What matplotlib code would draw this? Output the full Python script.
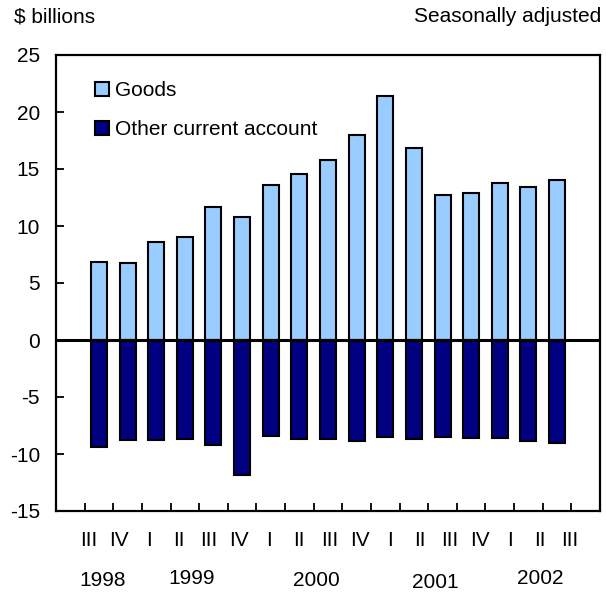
import numpy as np
import matplotlib
matplotlib.use("Agg")
import matplotlib.pyplot as plt
from matplotlib.patches import Patch
from matplotlib.transforms import blended_transform_factory

plt.rcParams['font.family'] = ['Liberation Sans', 'DejaVu Sans']
plt.rcParams['axes.unicode_minus'] = False

# quarterly values, 1998 III to 2002 III
goods = [6.8, 6.75, 8.6, 9.05, 11.7, 10.8, 13.6, 14.6, 15.8, 18.0,
         21.4, 16.8, 12.75, 12.9, 13.8, 13.45, 14.0]
other = [-9.35, -8.8, -8.75, -8.7, -9.2, -11.85, -8.4, -8.7, -8.65, -8.9,
         -8.5, -8.7, -8.5, -8.6, -8.6, -8.85, -9.0]
quarters = ["III", "IV", "I", "II", "III", "IV", "I", "II", "III", "IV",
            "I", "II", "III", "IV", "I", "II", "III"]
years = ["1998", "1999", "2000", "2001", "2002"]
year_x = [0.14, 3.25, 7.58, 11.74, 15.4]        # data x of year labels
year_y = [580, 578, 580, 583, 579]               # pixel rows from top

W, H = 606, 592
fig = plt.figure(figsize=(W / 100, H / 100), dpi=100)
ax = fig.add_axes([56 / W, 1 - 511 / H, 544 / W, 456 / H])

x = np.arange(len(goods))
bw = 0.56
ax.bar(x, goods, bw, color="#99CCFF", edgecolor="black", linewidth=1.5, zorder=2)
ax.bar(x, other, bw, color="#000080", edgecolor="black", linewidth=1.5, zorder=2)
ax.axhline(0, color="black", linewidth=2.2, zorder=3)

ax.set_xlim(-1.5, 17.5)
ax.set_ylim(-15, 25)
ax.set_yticks(range(-15, 26, 5))
ax.set_xticks(np.arange(-0.5, 17, 1.0))
ax.set_xticklabels([])
ax.tick_params(axis="both", direction="in", length=5.5, width=1.3, labelsize=15)
ax.tick_params(axis="y", pad=11.5)
ax.tick_params(top=False, right=False)
for s in ax.spines.values():
    s.set_linewidth(1.6)

# quarter labels and year labels under the axis
tr = blended_transform_factory(ax.transData, fig.transFigure)
qx = -0.35 + np.arange(len(quarters)) * 1.05
for xi, q in zip(qx, quarters):
    ax.text(xi, 1 - 540 / H, q, transform=tr, ha="center", va="center", fontsize=15)
for xi, yi, yr in zip(year_x, year_y, years):
    ax.text(xi, 1 - yi / H, yr, transform=tr, ha="center", va="center", fontsize=15)

fig.text(14 / W, 1 - 17 / H, "$ billions", ha="left", va="center", fontsize=15)
fig.text(601 / W, 1 - 17 / H, "Seasonally adjusted", ha="right", va="center", fontsize=15)

handles = [Patch(facecolor="#99CCFF", edgecolor="black", linewidth=1.5),
           Patch(facecolor="#000080", edgecolor="black", linewidth=1.5)]
ax.legend(handles, ["Goods", "Other current account"], loc="upper left",
          bbox_to_anchor=(0.0717, 0.942), frameon=False, fontsize=15,
          handlelength=0.67, handleheight=0.67, handletextpad=0.3,
          labelspacing=0.94, borderpad=0, borderaxespad=0)

fig.savefig("out.png", dpi=100)
